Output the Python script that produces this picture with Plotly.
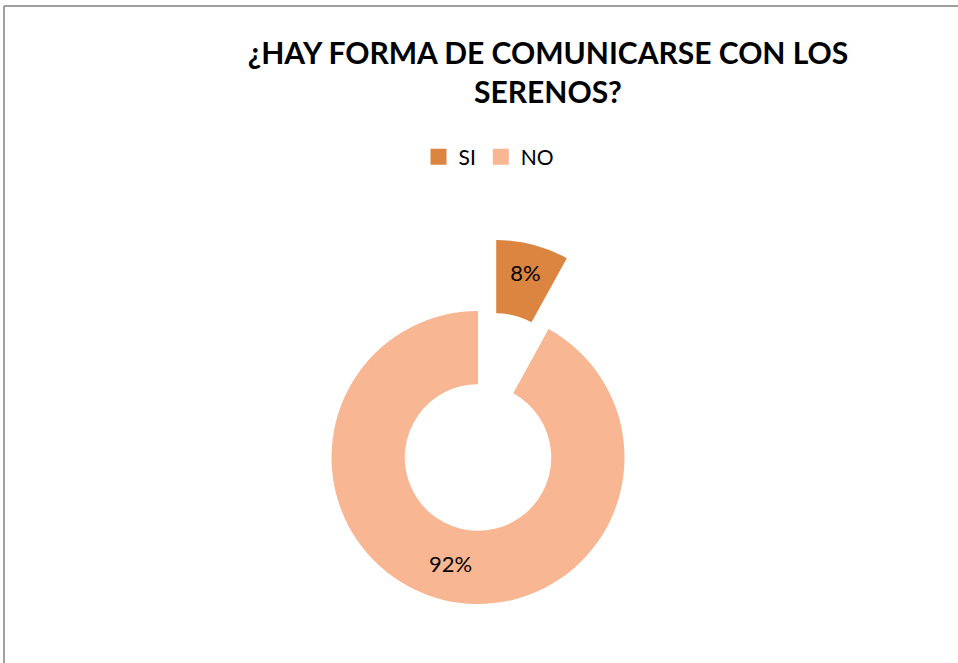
import math

import plotly.graph_objects as go

# data
labels = ["SI", "NO"]
values = [8, 92]
colors = ["#DC8541", "#F8B692"]
title_lines = ["¿HAY FORMA DE COMUNICARSE CON LOS", "SERENOS?"]

W, H = 958, 663
FONT = "Lato, Carlito, Calibri, 'Open Sans', sans-serif"

# donut geometry (px)
cx, cy, r = 478, 457.5, 146.5
pull = 0.5  # exploded slice offset, fraction of radius


def square_domain(x, y):
    return dict(x=[(x - r) / W, (x + r) / W], y=[1 - (y + r) / H, 1 - (y - r) / H])


# first slice is exploded: shift its own pie along the slice bisector
mid = math.radians(360 * values[0] / sum(values) / 2)
ex = cx + pull * r * math.sin(mid)
ey = cy - pull * r * math.cos(mid)

common = dict(
    labels=labels,
    values=values,
    hole=0.5,
    sort=False,
    direction="clockwise",
    rotation=0,
    textposition="inside",
    insidetextorientation="horizontal",
    textfont=dict(family=FONT, size=22, color="black"),
    marker_line_width=0,
    showlegend=False,
    hoverinfo="label+percent",
)

fig = go.Figure()

# remaining slices, first slice left empty
fig.add_trace(
    go.Pie(
        **common,
        domain=square_domain(cx, cy),
        marker_colors=["rgba(0,0,0,0)"] + colors[1:],
        texttemplate=[""] + ["%{percent:.0%}"] * (len(values) - 1),
    )
)

# exploded first slice
fig.add_trace(
    go.Pie(
        **common,
        domain=square_domain(ex, ey),
        marker_colors=[colors[0]] + ["rgba(0,0,0,0)"] * (len(values) - 1),
        texttemplate=["%{percent:.0%}"] + [""] * (len(values) - 1),
    )
)

# legend entries
for lab, col in zip(labels, colors):
    fig.add_trace(
        go.Scatter(
            x=[None],
            y=[None],
            mode="markers",
            name=lab,
            marker=dict(symbol="square", size=17, color=col),
        )
    )

fig.update_layout(
    width=W,
    height=H,
    margin=dict(l=0, r=0, t=0, b=0),
    paper_bgcolor="white",
    plot_bgcolor="white",
    xaxis=dict(visible=False),
    yaxis=dict(visible=False),
    title=dict(
        text="<br>".join(title_lines),
        font=dict(family=FONT, size=30, color="black", weight="bold"),
        x=548 / W,
        xanchor="center",
        xref="paper",
        y=1 - 64 / H,
        yanchor="middle",
        yref="container",
    ),
    legend=dict(
        orientation="h",
        x=489 / W,
        xanchor="center",
        y=1 - 157 / H,
        yanchor="middle",
        font=dict(family=FONT, size=21, color="black"),
        itemsizing="trace",
    ),
    shapes=[
        dict(type="line", xref="paper", yref="paper", x0=4 / W, x1=1, y0=1 - 6 / H, y1=1 - 6 / H,
             line=dict(color="#808080", width=1.5)),
        dict(type="line", xref="paper", yref="paper", x0=4 / W, x1=4 / W, y0=0, y1=1 - 6 / H,
             line=dict(color="#808080", width=1.5)),
    ],
)

fig.write_html(
    "out.html",
    config={"displayModeBar": False},
    post_script="document.body.style.margin = '0';",
)
